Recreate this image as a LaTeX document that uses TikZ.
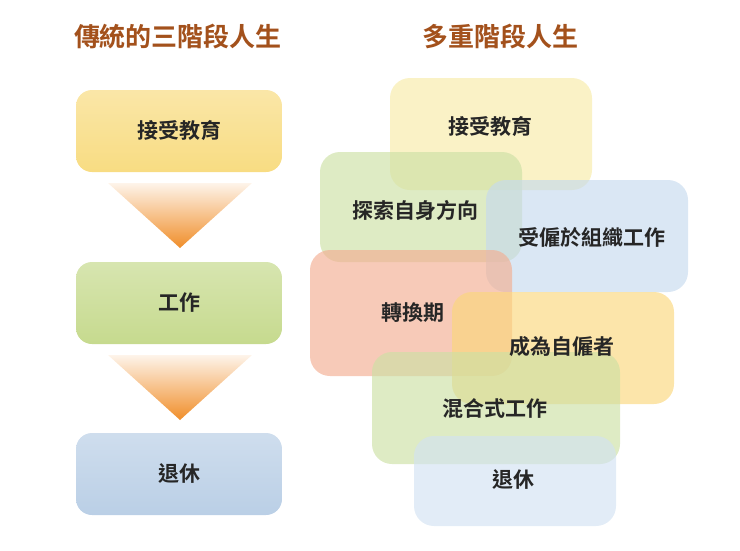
\documentclass[tikz,border=0pt]{standalone}
\usepackage{fontspec}
\setmainfont{Noto Sans CJK TC}[BoldFont={Noto Sans CJK TC Bold}]
\usetikzlibrary{shapes.geometric}
\definecolor{ttl}{HTML}{A3511C}
\definecolor{ylw}{HTML}{F8DC82}
\definecolor{grn}{HTML}{C6DA8E}
\definecolor{blu}{HTML}{BACFE6}
\definecolor{org}{HTML}{F08E2A}
\definecolor{sal}{HTML}{F3AE92}
\definecolor{ylw2}{HTML}{FBD77C}
\definecolor{ylw3}{HTML}{F7EBA8}
\definecolor{grn2}{HTML}{CCE0A4}
\definecolor{blu2}{HTML}{C6DAEE}
\definecolor{blu3}{HTML}{D2E2F2}
\tikzset{
 ttlstyle/.style={font=\bfseries\fontsize{26}{30}\selectfont, text=ttl},
 lbox/.style={rounded corners=16pt, minimum width=206pt, minimum height=82pt, font=\bfseries\fontsize{21}{24}\selectfont, text=black!85},
 rbox/.style={rounded corners=20pt, fill opacity=0.65},
 tri/.style={top color=org!10, bottom color=org, draw=none}
}
\begin{document}
\begin{tikzpicture}[x=1pt,y=-1pt]
\useasboundingbox (0,0) rectangle (740,550);
\node[ttlstyle] (t1) at (178,37) {傳統的三階段人生};
\node[ttlstyle] (t2) at (500,37) {多重階段人生};
% left
\node[lbox, top color=ylw!70, bottom color=ylw] (l1) at (179,131) {接受教育};
\node[lbox, top color=grn!70, bottom color=grn] (l2) at (179,303) {工作};
\node[lbox, top color=blu!70, bottom color=blu] (l3) at (179,474) {退休};
\shade[tri] (108,183) -- (252,183) -- (180,248) -- cycle;
\shade[tri] (108,355) -- (252,355) -- (180,420) -- cycle;
% right
\node[rbox, fill=ylw3, minimum width=202pt, minimum height=112pt] (r1) at (491,134) {};
\node[rbox, fill=grn2, minimum width=202pt, minimum height=110pt] (r2) at (421,207) {};
\node[rbox, fill=blu2, minimum width=202pt, minimum height=112pt] (r3) at (587,236) {};
\node[rbox, fill=sal, minimum width=202pt, minimum height=126pt] (r4) at (411,313) {};
\node[rbox, fill=ylw2, minimum width=222pt, minimum height=112pt] (r5) at (563,348) {};
\node[rbox, fill=grn2, minimum width=248pt, minimum height=112pt] (r6) at (496,408) {};
\node[rbox, fill=blu3, minimum width=202pt, minimum height=90pt] (r7) at (515,481) {};
\begin{scope}[every node/.style={font=\bfseries\fontsize{21}{24}\selectfont, text=black!85}]
\node at (490,127) {接受教育};
\node at (415,210) {探索自身方向};
\node at (592,237) {受僱於組織工作};
\node at (413,313) {轉換期};
\node at (562,347) {成為自僱者};
\node at (495,408) {混合式工作};
\node at (513,480) {退休};
\end{scope}
\end{tikzpicture}
\end{document}
